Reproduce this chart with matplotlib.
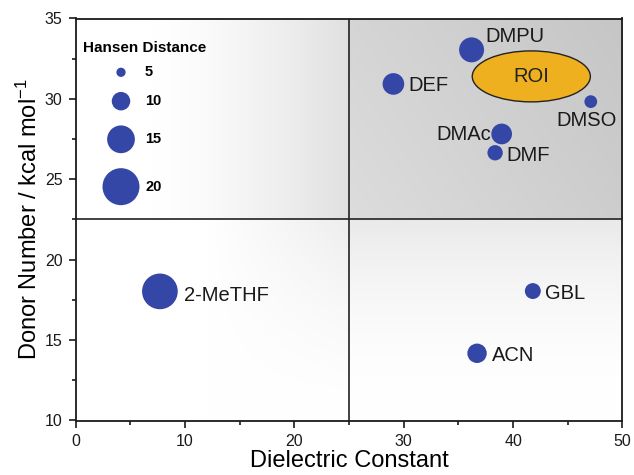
import numpy as np
import matplotlib
matplotlib.use('Agg')
import matplotlib.pyplot as plt
from matplotlib.patches import Ellipse
from matplotlib.ticker import MultipleLocator

plt.rcParams['font.family'] = ['Liberation Sans', 'DejaVu Sans']
plt.rcParams['mathtext.fontset'] = 'custom'
plt.rcParams['mathtext.rm'] = 'Liberation Sans'
plt.rcParams['mathtext.default'] = 'regular'

# data
solvents = ['DMPU', 'DEF', 'DMSO', 'DMAc', 'DMF', '2-MeTHF', 'GBL', 'ACN']
dielectric = [36.2, 29.05, 47.1, 38.95, 38.35, 7.7, 41.8, 36.7]
donor_number = [33.05, 30.93, 29.83, 27.82, 26.65, 18.03, 18.05, 14.18]
hansen = [13.5, 11.7, 6.9, 11.2, 8.3, 19.3, 8.6, 10.5]
legend_hd = [5, 10, 15, 20]

roi_center = (41.66, 31.4)
roi_width = 10.8
roi_height = 3.17
eps_split = 25
dn_split = 22.5

# label offsets (points) and alignment
label_pos = {
    'DMPU': (9.6, 10.8, 'left'),
    'DEF': (10.8, 0, 'left'),
    'DMSO': (-3.4, -12.0, 'center'),
    'DMAc': (-7.9, 1.0, 'right'),
    'DMF': (8.4, -0.4, 'left'),
    '2-MeTHF': (17.7, -1.6, 'left'),
    'GBL': (8.6, 0, 'left'),
    'ACN': (10.6, 0, 'left'),
}

blue = '#3447A7'
roi_col = '#EFB020'


def marker_area(h):
    d = 1.85 * h * 0.72  # diameter in points
    return d ** 2


fig = plt.figure(figsize=(6.34, 4.75), dpi=100)
ax = fig.add_axes([75.7 / 634, 1 - 420.5 / 475, (622.5 - 75.7) / 634, (420.5 - 18.5) / 475])

# shaded background, one gradient per quadrant
xx, yy = np.meshgrid(np.linspace(0, 50, 600), np.linspace(10, 35, 300))
g = np.ones_like(xx)
ur = (xx >= eps_split) & (yy >= dn_split)
ul = (xx < eps_split) & (yy >= dn_split)
lr = (xx >= eps_split) & (yy < dn_split)
ll = (xx < eps_split) & (yy < dn_split)
g[ur] = (0.865 - 0.06 * (xx - 25) / 25 - 0.03 * (yy - 22.5) / 12.5)[ur]
g[ul] = (1 - 0.12 * np.clip((xx - 7) / 18, 0, 1) ** 1.4)[ul]
g[lr] = (1 - 0.085 * ((yy - 10) / 12.5) ** 2)[lr]
g[ll] = (1 - 0.07 * np.clip((xx - 12) / 13, 0, 1) * ((yy - 10) / 12.5) ** 1.5)[ll]
ax.imshow(np.dstack([g, g, g]), extent=[0, 50, 10, 35], origin='lower',
          aspect='auto', zorder=0, interpolation='bilinear')

ax.axvline(eps_split, color='#222222', lw=1.2, zorder=1)
ax.axhline(dn_split, color='#222222', lw=1.2, zorder=1)

ax.add_patch(Ellipse(roi_center, roi_width, roi_height, facecolor=roi_col,
                     edgecolor='#222222', lw=1.0, zorder=2))
ax.text(roi_center[0], roi_center[1], 'ROI', ha='center', va='center',
        fontsize=14.5, color='#222222', zorder=3)

ax.scatter(dielectric, donor_number, s=[marker_area(h) for h in hansen],
           color=blue, edgecolors='none', zorder=3)

for name, x, y in zip(solvents, dielectric, donor_number):
    dx, dy, ha = label_pos[name]
    ax.annotate(name, (x, y), xytext=(dx, dy), textcoords='offset points',
                ha=ha, va='center_baseline', fontsize=14.5, color='#1a1a1a', zorder=4)

# size legend
fig.text(82.7 / 634, 1 - 47.7 / 475, 'Hansen Distance', fontsize=11, fontweight='bold',
         va='center', ha='left')
yc = 72.3
radii = [1.85 * h / 2 for h in legend_hd]
for i, h in enumerate(legend_hd):
    if i > 0:
        yc += radii[i - 1] + radii[i] + 15
    ax.scatter([121 / 634], [1 - yc / 475], s=marker_area(h), color=blue,
               edgecolors='none', transform=fig.transFigure, clip_on=False, zorder=5)
    fig.text(145 / 634, 1 - yc / 475, str(h), fontsize=10.5, fontweight='bold',
             va='center', ha='left')

ax.set_xlim(0, 50)
ax.set_ylim(10, 35)
ax.xaxis.set_major_locator(MultipleLocator(10))
ax.xaxis.set_minor_locator(MultipleLocator(5))
ax.yaxis.set_major_locator(MultipleLocator(5))
ax.yaxis.set_minor_locator(MultipleLocator(2.5))
ax.tick_params(which='both', direction='out', width=1.2, labelsize=11.5, colors='#1a1a1a')
ax.tick_params(which='major', length=5)
ax.tick_params(which='minor', length=3)
ax.tick_params(axis='x', which='major', pad=4.5)
ax.tick_params(axis='y', which='major', pad=4.5)
for sp in ax.spines.values():
    sp.set_linewidth(1.3)
    sp.set_color('#1a1a1a')

ax.set_xlabel('Dielectric Constant', fontsize=17, labelpad=1)
ax.set_ylabel('Donor Number / kcal mol$^{-1}$', fontsize=17, labelpad=2)

fig.savefig('out.png', dpi=100)
